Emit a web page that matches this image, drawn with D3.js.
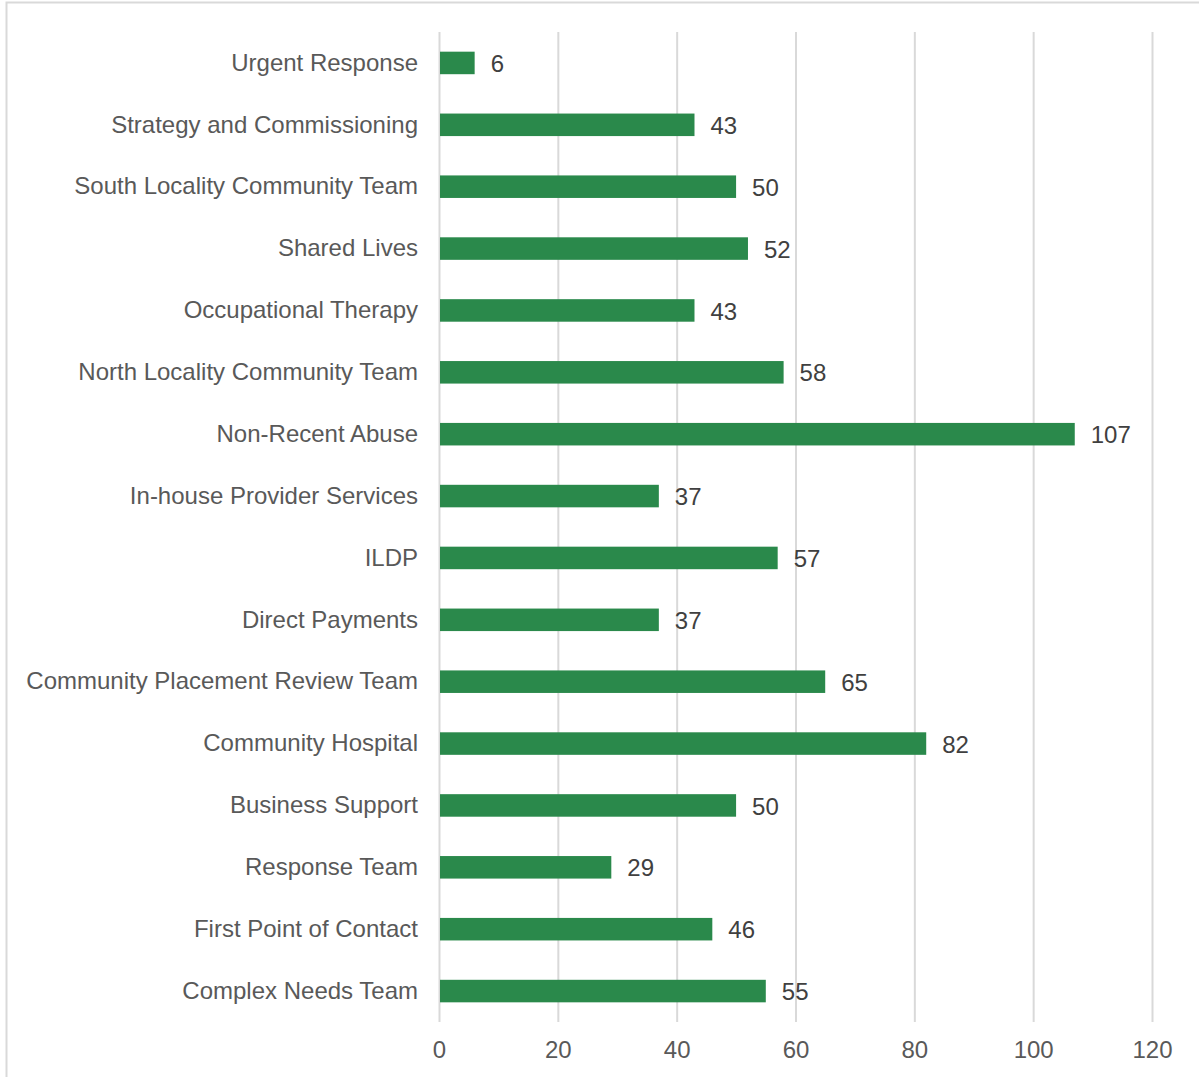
<!DOCTYPE html>
<html>
<head>
<meta charset="utf-8">
<script src="https://cdn.jsdelivr.net/npm/d3@7/dist/d3.min.js"></script>
<style>
  html, body { margin: 0; padding: 0; background: #fff; }
  svg { display: block; font-family: "Liberation Sans", Arial, sans-serif; }
</style>
</head>
<body>
<svg id="chart" width="1199" height="1077"></svg>
<script>
// Team names, top to bottom
const teams = [
  "Urgent Response",
  "Strategy and Commissioning",
  "South Locality Community Team",
  "Shared Lives",
  "Occupational Therapy",
  "North Locality Community Team",
  "Non-Recent Abuse",
  "In-house Provider Services",
  "ILDP",
  "Direct Payments",
  "Community Placement Review Team",
  "Community Hospital",
  "Business Support",
  "Response Team",
  "First Point of Contact",
  "Complex Needs Team"
];
// Count per team
const counts = [6, 43, 50, 52, 43, 58, 107, 37, 57, 37, 65, 82, 50, 29, 46, 55];
// Horizontal axis ticks
const xTicks = [0, 20, 40, 60, 80, 100, 120];

const svg = d3.select("#chart");
const W = 1199, H = 1077;
const margin = { left: 439, right: 47, top: 32, bottom: 55 };
const FONT = 24;

// outer frame
svg.append("rect")
  .attr("x", 6.5).attr("y", 2.5)
  .attr("width", W + 10).attr("height", H + 10)
  .attr("fill", "none").attr("stroke", "#d9d9d9").attr("stroke-width", 2);

const x = d3.scaleLinear().domain([0, 120]).range([margin.left, W - margin.right]);
const y = d3.scaleBand().domain(teams).range([margin.top, H - margin.bottom]).paddingInner(0.636).paddingOuter(0.318);

// vertical gridlines
svg.append("g").selectAll("line").data(xTicks).join("line")
  .attr("x1", d => x(d) + 0.5).attr("x2", d => x(d) + 0.5)
  .attr("y1", margin.top).attr("y2", H - margin.bottom)
  .attr("stroke", "#d9d9d9").attr("stroke-width", 2);

// x-axis tick labels
const xAxis = d3.axisBottom(x).tickValues(xTicks).tickSize(0).tickPadding(19);
const gx = svg.append("g").attr("transform", `translate(0,${H - margin.bottom})`).call(xAxis);
gx.select(".domain").remove();
gx.selectAll("text").attr("font-size", FONT).attr("fill", "#595959")
  .attr("font-family", "Liberation Sans, Arial, sans-serif");

// category labels
const yAxis = d3.axisLeft(y).tickSize(0).tickPadding(21);
const gy = svg.append("g").attr("transform", `translate(${margin.left},0)`).call(yAxis);
gy.select(".domain").remove();
gy.selectAll("text").attr("font-size", FONT).attr("fill", "#595959")
  .attr("font-family", "Liberation Sans, Arial, sans-serif");

// bars
const data = teams.map((t, i) => ({ team: t, value: counts[i] }));
svg.append("g").selectAll("rect").data(data).join("rect")
  .attr("x", x(0) + 1)
  .attr("y", d => y(d.team))
  .attr("width", d => x(d.value) - x(0) - 1)
  .attr("height", y.bandwidth())
  .attr("fill", "#2a894b");

// value labels
svg.append("g").selectAll("text").data(data).join("text")
  .attr("x", d => x(d.value) + 16)
  .attr("y", d => y(d.team) + y.bandwidth() / 2)
  .attr("dy", "0.38em")
  .attr("font-size", FONT).attr("fill", "#404040")
  .text(d => d.value);
</script>
</body>
</html>
